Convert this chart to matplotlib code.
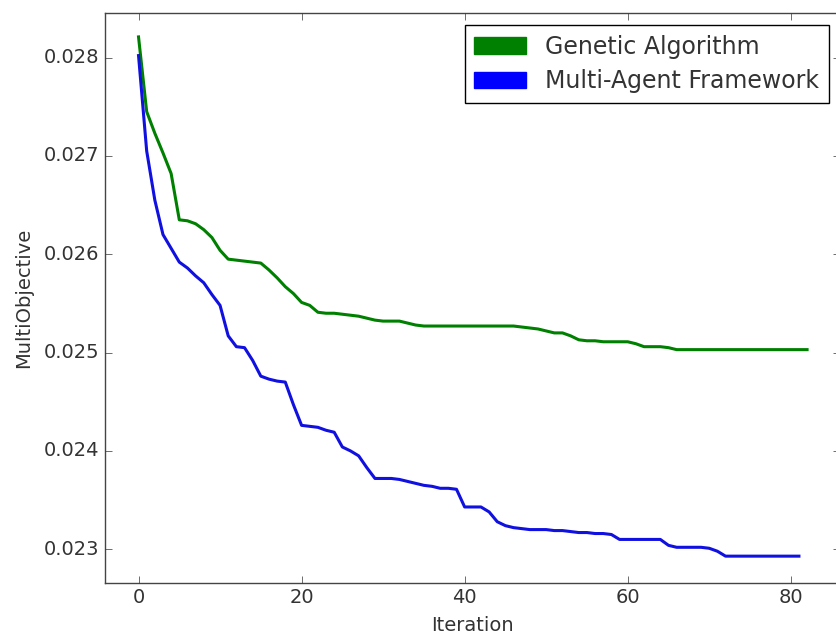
import numpy as np
import matplotlib
matplotlib.use("Agg")
import matplotlib.pyplot as plt
import matplotlib.patches as mpatches

# Objective value per iteration
genetic = [
    0.02821, 0.02745, 0.02723, 0.02703, 0.02682, 0.02635, 0.02634, 0.02631, 0.02625, 0.02617,
    0.02604, 0.02595, 0.02594, 0.02593, 0.02592, 0.02591, 0.02584, 0.02576, 0.02567, 0.02560,
    0.02551, 0.02548, 0.02541, 0.02540, 0.02540, 0.02539, 0.02538, 0.02537, 0.02535, 0.02533,
    0.02532, 0.02532, 0.02532, 0.02530, 0.02528, 0.02527, 0.02527, 0.02527, 0.02527, 0.02527,
    0.02527, 0.02527, 0.02527, 0.02527, 0.02527, 0.02527, 0.02527, 0.02526, 0.02525, 0.02524,
    0.02522, 0.02520, 0.02520, 0.02517, 0.02513, 0.02512, 0.02512, 0.02511, 0.02511, 0.02511,
    0.02511, 0.02509, 0.02506, 0.02506, 0.02506, 0.02505, 0.02503, 0.02503, 0.02503, 0.02503,
    0.02503, 0.02503, 0.02503, 0.02503, 0.02503, 0.02503, 0.02503, 0.02503, 0.02503, 0.02503,
    0.02503, 0.02503, 0.02503,
]
multi_agent = [
    0.02802, 0.02705, 0.02655, 0.02620, 0.02606, 0.02592, 0.02586, 0.02578, 0.02571, 0.02559,
    0.02548, 0.02517, 0.02506, 0.02505, 0.02492, 0.02476, 0.02473, 0.02471, 0.02470, 0.02447,
    0.02426, 0.02425, 0.02424, 0.02421, 0.02419, 0.02404, 0.02400, 0.02395, 0.02383, 0.02372,
    0.02372, 0.02372, 0.02371, 0.02369, 0.02367, 0.02365, 0.02364, 0.02362, 0.02362, 0.02361,
    0.02343, 0.02343, 0.02343, 0.02338, 0.02328, 0.02324, 0.02322, 0.02321, 0.02320, 0.02320,
    0.02320, 0.02319, 0.02319, 0.02318, 0.02317, 0.02317, 0.02316, 0.02316, 0.02315, 0.02310,
    0.02310, 0.02310, 0.02310, 0.02310, 0.02310, 0.02304, 0.02302, 0.02302, 0.02302, 0.02302,
    0.02301, 0.02298, 0.02293, 0.02293, 0.02293, 0.02293, 0.02293, 0.02293, 0.02293, 0.02293,
    0.02293, 0.02293,
]
labels = ["Genetic Algorithm", "Multi-Agent Framework"]

plt.style.use("classic")
plt.rcParams["font.family"] = "DejaVu Sans"

fig = plt.figure(figsize=(8.36, 6.41), dpi=100, facecolor="white")
# axes runs a bit past the right edge like in the (cropped) reference
ax = fig.add_axes([105.1 / 836, 58.3 / 641, 735.4 / 836, 569.4 / 641])
ax.set_facecolor("white")

ax.plot(np.arange(len(genetic)), genetic, color="g", lw=2.2)
ax.plot(np.arange(len(multi_agent)), multi_agent, color="#1010e0", lw=2.2)

ax.set_xlim(-4.1, 86.1)
ax.set_ylim(0.02266, 0.02845)
ax.set_xticks([0, 20, 40, 60, 80])
ax.set_yticks([0.023, 0.024, 0.025, 0.026, 0.027, 0.028])
ax.tick_params(labelsize=14, colors="#333333", length=5)
for s in ax.spines.values():
    s.set_color("#444444")

ax.set_xlabel("Iteration", fontsize=14, color="#333333", labelpad=6)
ax.set_ylabel("MultiObjective", fontsize=14, color="#333333", labelpad=8)

handles = [mpatches.Patch(color="g", label=labels[0]),
           mpatches.Patch(color="b", label=labels[1])]
leg = ax.legend(handles=handles, loc="upper right", fontsize=17, fancybox=False,
                handlelength=2.2, borderaxespad=0.5, labelspacing=0.45)
for t in leg.get_texts():
    t.set_color("#333333")

fig.savefig("out.png", dpi=100, facecolor="white")
